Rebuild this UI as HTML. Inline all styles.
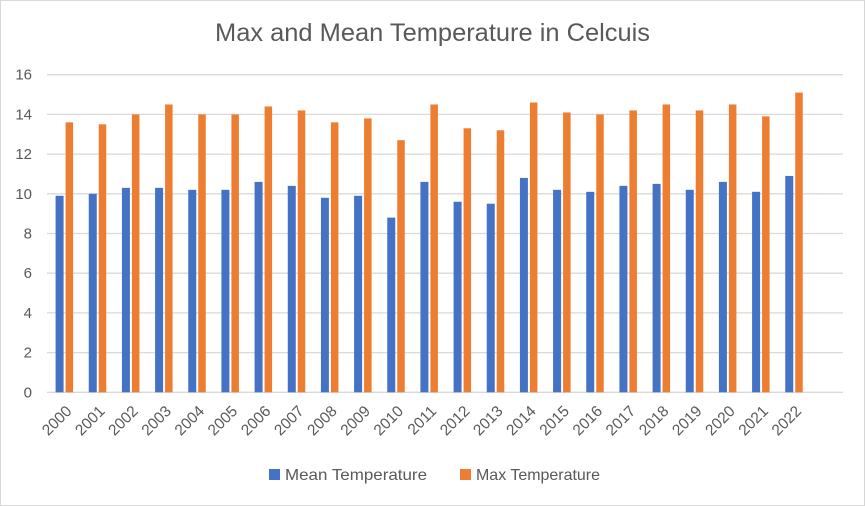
<!DOCTYPE html>
<html><head><meta charset="utf-8"><style>
html,body{margin:0;padding:0;background:#fff;}
svg{display:block;font-family:"Liberation Sans",sans-serif;}
</style></head><body>
<svg width="866" height="506" viewBox="0 0 866 506" xmlns="http://www.w3.org/2000/svg">
<rect x="0.5" y="0.5" width="864" height="505" fill="#fff" stroke="#d9d9d9"/>
<text x="215" y="41" font-size="25" fill="#595959" textLength="435" lengthAdjust="spacingAndGlyphs">Max and Mean Temperature in Celcuis</text>
<g id="grid" stroke="#d9d9d9" stroke-width="1.3"></g>
<g id="yl" font-size="15" fill="#595959" text-anchor="end"></g>
<g id="bars"></g>
<g id="xl" font-size="15.5" fill="#595959" text-anchor="end"></g>
<rect x="269" y="469" width="11" height="11" fill="#4472c4"/>
<text x="285" y="480" font-size="16" fill="#595959" textLength="142" lengthAdjust="spacingAndGlyphs">Mean Temperature</text>
<rect x="460" y="469" width="11" height="11" fill="#ed7d31"/>
<text x="476" y="480" font-size="16" fill="#595959" textLength="124" lengthAdjust="spacingAndGlyphs">Max Temperature</text>
</svg>
<script>
var ns="http://www.w3.org/2000/svg";
function el(p,t,a,txt){var e=document.createElementNS(ns,t);for(var k in a)e.setAttribute(k,a[k]);if(txt!==undefined)e.textContent=txt;document.getElementById(p).appendChild(e);}
var y0=392.3,step=19.85;
for(var v=0;v<=16;v+=2){var y=y0-v*step;el('grid','line',{x1:47,x2:843,y1:y,y2:y});el('yl','text',{x:32,y:y+5},String(v));}
var mean=[9.9,10,10.3,10.3,10.2,10.2,10.6,10.4,9.8,9.9,8.8,10.6,9.6,9.5,10.8,10.2,10.1,10.4,10.5,10.2,10.6,10.1,10.9];
var mx=[13.6,13.5,14,14.5,14,14,14.4,14.2,13.6,13.8,12.7,14.5,13.3,13.2,14.6,14.1,14,14.2,14.5,14.2,14.5,13.9,15.1];
var cw=796/24;
for(var i=0;i<23;i++){var cx=47+cw*(i+0.5);
el('bars','rect',{x:cx-8,y:y0-mean[i]*step,width:8,height:mean[i]*step,fill:'#4472c4'});
el('bars','rect',{x:cx+2,y:y0-mx[i]*step,width:7.5,height:mx[i]*step,fill:'#ed7d31'});
var tx=cx+9,ty=412;
el('xl','text',{x:tx,y:ty,transform:'rotate(-45 '+tx+' '+ty+')'},String(2000+i));}
</script>
</body></html>
